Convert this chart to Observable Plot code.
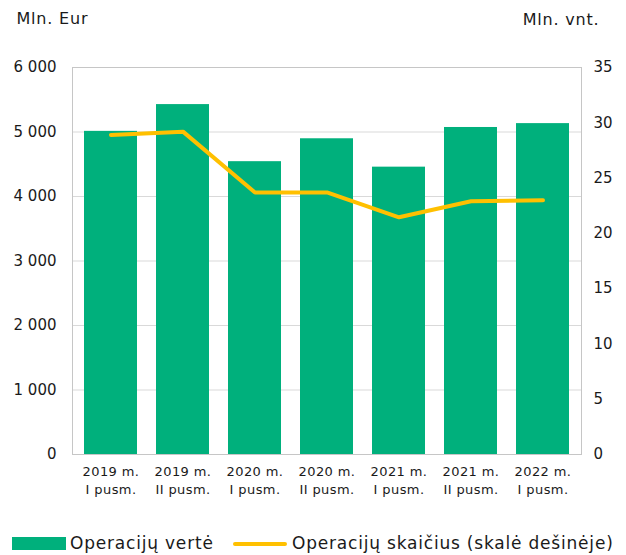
<!DOCTYPE html>
<html>
<head>
<meta charset="utf-8">
<script src="https://cdn.jsdelivr.net/npm/d3@7"></script>
<script src="https://cdn.jsdelivr.net/npm/@observablehq/plot@0.6"></script>
<style>
  body { margin: 0; background: #fff; font-family: "DejaVu Sans", Verdana, sans-serif; color: #1a1a1a; }
  #chart { width: 626px; }
  .legend { position: relative; height: 45px; font-size: 17px; letter-spacing: 0.8px; }
  .legend .sw { position: absolute; }
  .legend .lbl { position: absolute; top: 0; line-height: 17px; white-space: nowrap; }
</style>
</head>
<body>
<div id="chart"></div>
<div class="legend">
  <div class="sw" style="left:12px; top:27px; width:54px; height:13px; background:#00b07c;"></div>
  <div class="lbl" id="l1" style="left:70px; top:25px;"></div>
  <div class="sw" style="left:233px; top:32px; width:54px; height:4px; background:#ffc000; border-radius:2px;"></div>
  <div class="lbl" id="l2" style="left:292px; top:25px;"></div>
</div>
<script>
const categories = ["2019 m.\nI pusm.", "2019 m.\nII pusm.", "2020 m.\nI pusm.", "2020 m.\nII pusm.", "2021 m.\nI pusm.", "2021 m.\nII pusm.", "2022 m.\nI pusm."];
const valueEur = [5010, 5425, 4540, 4895, 4455, 5070, 5130];
const countMln = [28.9, 29.2, 23.7, 23.7, 21.45, 22.9, 23.0];
const leftTicks = [0, 1000, 2000, 3000, 4000, 5000, 6000];
const rightTicks = [0, 5, 10, 15, 20, 25, 30, 35];
const seriesNames = ["Operacijų vertė", "Operacijų skaičius (skalė dešinėje)"];
const leftUnit = "Mln. Eur";
const rightUnit = "Mln. vnt.";

const leftMax = 6000, rightMax = 35;
const k = leftMax / rightMax;

const bars = categories.map((c, i) => ({cat: c, v: valueEur[i]}));
const pts = categories.map((c, i) => ({cat: c, v: countMln[i] * k}));

const fmt = d => d3.format(",")(d).replace(/,/g, " ");

const chart = Plot.plot({
  width: 626,
  height: 510,
  marginTop: 67,
  marginBottom: 56,
  marginLeft: 72,
  marginRight: 45,
  style: {fontFamily: "'DejaVu Sans', Verdana, sans-serif", color: "#1a1a1a", background: "#fff"},
  x: {domain: categories, paddingInner: 0.26, paddingOuter: 0.13},
  y: {domain: [0, leftMax]},
  marks: [
    Plot.gridY(leftTicks, {stroke: "#d9d9d9", strokeOpacity: 1}),
    Plot.frame({stroke: "#c6c6c6"}),
    Plot.barY(bars, {x: "cat", y: "v", fill: "#00b07c"}),
    Plot.line(pts, {x: "cat", y: "v", stroke: "#ffc000", strokeWidth: 4, strokeLinecap: "round", strokeLinejoin: "round"}),
    Plot.axisY(leftTicks, {anchor: "left", tickSize: 0, tickPadding: 16, tickFormat: fmt, fontSize: 15, label: null}),
    Plot.axisY(rightTicks.map(d => d * k), {anchor: "right", tickSize: 0, tickPadding: 12, tickFormat: d => Math.round(d / k), fontSize: 15, label: null}),
    Plot.axisX({tickSize: 0, tickPadding: 9, fontSize: 13, lineHeight: 1.38, label: null}),
    Plot.text([leftUnit], {frameAnchor: "top-left", dx: -56, dy: -49, textAnchor: "start", lineAnchor: "middle", fontSize: 16, fill: "#1a1a1a"}),
    Plot.text([rightUnit], {frameAnchor: "top-right", dx: 18, dy: -48, textAnchor: "end", lineAnchor: "middle", fontSize: 16, fill: "#1a1a1a"})
  ]
});
d3.select(chart).selectAll("g[aria-label='x-axis tick label']").style("letter-spacing", "0.4px");
d3.select(chart).selectAll("g[aria-label='text']").style("letter-spacing", "0.8px");
document.getElementById("chart").appendChild(chart);
document.getElementById("l1").textContent = seriesNames[0];
document.getElementById("l2").textContent = seriesNames[1];
</script>
</body>
</html>
